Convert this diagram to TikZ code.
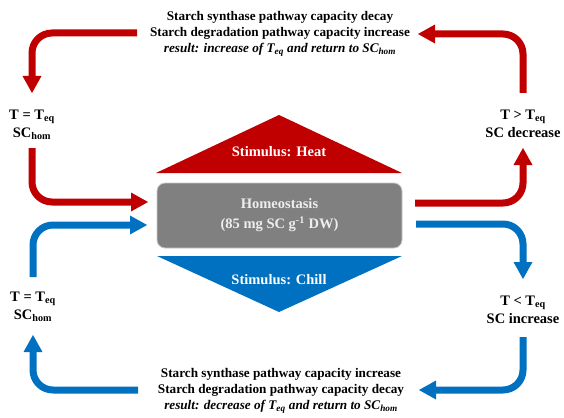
\documentclass[tikz,border=0pt]{standalone}
\usepackage{fontspec}
\setmainfont{Liberation Serif}
\usetikzlibrary{arrows.meta}
\definecolor{hred}{HTML}{C00000}
\definecolor{cblue}{HTML}{0070C0}
\definecolor{boxgray}{HTML}{808080}
\definecolor{boxline}{HTML}{C8C8C8}
\definecolor{boxtext}{HTML}{EEEEEE}
\begin{document}
\begin{tikzpicture}[x=1pt,y=-1pt,
  flow/.style={line width=7pt,-{Triangle[width=19pt,length=17pt,line width=0pt]},rounded corners=20pt},
  heatflow/.style={flow,draw=hred},
  chillflow/.style={flow,draw=cblue},
  lab/.style={font=\bfseries\fontsize{14.5}{18}\selectfont,align=center,inner sep=0pt},
  note/.style={font=\bfseries\fontsize{13.2}{16}\selectfont,align=center,inner sep=0pt},
  stim/.style={font=\bfseries\fontsize{14.5}{17}\selectfont,text=white,inner sep=0pt},
  homeo/.style={draw=boxline,fill=boxgray,line width=0.8pt,rounded corners=8pt,
    minimum width=245pt,minimum height=65pt,text=boxtext,align=center,
    font=\bfseries\fontsize{14.5}{20}\selectfont}]
\useasboundingbox (0,0) rectangle (564,417);

% central elements
\fill[hred] (156,173) -- (279,115) -- (402,173) -- cycle;
\node[stim] (heat) at (279,152) {Stimulus: Heat};
\node[homeo] (box) at (279.5,215.5) {Homeostasis\\(85 mg SC g\textsuperscript{-1} DW)};
\fill[cblue] (157,256) -- (402,256) -- (279,312) -- cycle;
\node[stim] (chill) at (279,280) {Stimulus: Chill};

% labels
\node[lab] (lt) at (32,124.5) {T = T\textsubscript{eq}\\SC\textsubscript{hom}};
\node[lab] (rt) at (523,123.5) {T > T\textsubscript{eq}\\SC decrease};
\node[lab] (lb) at (33,306.5) {T = T\textsubscript{eq}\\SC\textsubscript{hom}};
\node[lab] (rb) at (523,309.5) {T < T\textsubscript{eq}\\SC increase};

\node[note] (top) at (280,34) {Starch synthase pathway capacity decay\\
  Starch degradation pathway capacity increase\\
  \textit{result: increase of T\textsubscript{eq} and return to SC\textsubscript{hom}}};
\node[note] (bot) at (281,391) {Starch synthase pathway capacity increase\\
  Starch degradation pathway capacity decay\\
  \textit{result: decrease of T\textsubscript{eq} and return to SC\textsubscript{hom}}};

% connector ends
\coordinate (rtN) at (523,93);
\coordinate (topE) at (418,34);
\coordinate (topW) at (137,33);
\coordinate (ltN) at (32,93);
\coordinate (ltS) at (32,148);
\coordinate (boxWh) at (148,202);
\coordinate (boxEh) at (415,203);
\coordinate (rtS) at (523,148);
\coordinate (lbN) at (33,277);
\coordinate (boxWc) at (147,225);
\coordinate (boxEc) at (416,224);
\coordinate (rbN) at (523,279);
\coordinate (botW) at (138,390);
\coordinate (lbS) at (33,335);
\coordinate (rbS) at (523,337);
\coordinate (botE) at (419,390);

% heat loop
\draw[heatflow] (rtN) |- (topE);
\draw[heatflow] (topW) -| (ltN);
\draw[heatflow] (ltS) |- (boxWh);
\draw[heatflow] (boxEh) -| (rtS);
% chill loop
\draw[chillflow] (lbN) |- (boxWc);
\draw[chillflow] (boxEc) -| (rbN);
\draw[chillflow] (rbS) |- (botE);
\draw[chillflow] (botW) -| (lbS);
\end{tikzpicture}
\end{document}
